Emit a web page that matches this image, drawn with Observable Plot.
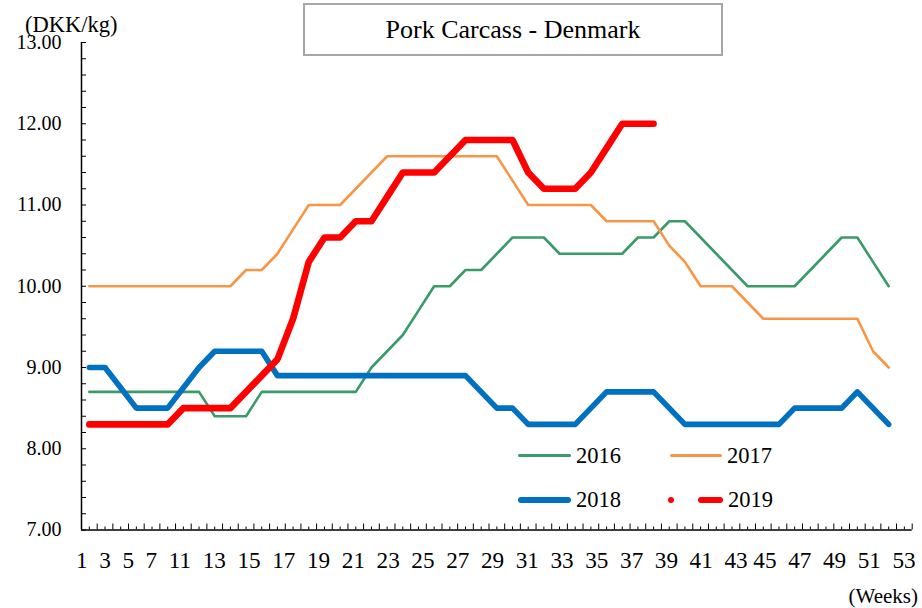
<!DOCTYPE html>
<html>
<head>
<meta charset="utf-8">
<script src="https://cdn.jsdelivr.net/npm/d3@7"></script>
<script src="https://cdn.jsdelivr.net/npm/@observablehq/plot@0.6"></script>
<style>
  html, body { margin: 0; padding: 0; background: #fff; }
  #wrap { position: relative; width: 922px; height: 608px; font-family: "Liberation Serif", "Times New Roman", serif; color: #000; }
  #wrap svg { position: absolute; left: 0; top: 0; }
  .abs { position: absolute; white-space: nowrap; }
  #title { left: 303px; top: 3px; width: 420px; height: 53px; box-sizing: border-box; border: 2px solid #a6a6a6; background: #fff;
           display: flex; align-items: center; justify-content: center; font-size: 26px; }
  .sw { position: absolute; border-radius: 4px; }
  .lg { position: absolute; font-size: 22.5px; line-height: 1; }
</style>
</head>
<body>
<div id="wrap"></div>
<script>
// ---- data ----
const title = "Pork Carcass - Denmark";
const yUnit = "(DKK/kg)";
const xUnit = "(Weeks)";
const years = ["2016", "2017", "2018", "2019"];
const colors = ["#3a9a68", "#f79646", "#0070c0", "#ff0000"];
const s2016 = [8.7,8.7,8.7,8.7,8.7,8.7,8.7,8.7,8.4,8.4,8.4,8.7,8.7,8.7,8.7,8.7,8.7,8.7,9.0,9.2,9.4,9.7,10.0,10.0,10.2,10.2,10.4,10.6,10.6,10.6,10.4,10.4,10.4,10.4,10.4,10.6,10.6,10.8,10.8,10.6,10.4,10.2,10.0,10.0,10.0,10.0,10.2,10.4,10.6,10.6,10.3,10.0];
const s2017 = [10.0,10.0,10.0,10.0,10.0,10.0,10.0,10.0,10.0,10.0,10.2,10.2,10.4,10.7,11.0,11.0,11.0,11.2,11.4,11.6,11.6,11.6,11.6,11.6,11.6,11.6,11.6,11.3,11.0,11.0,11.0,11.0,11.0,10.8,10.8,10.8,10.8,10.5,10.3,10.0,10.0,10.0,9.8,9.6,9.6,9.6,9.6,9.6,9.6,9.6,9.2,9.0];
const s2018 = [9.0,9.0,8.75,8.5,8.5,8.5,8.75,9.0,9.2,9.2,9.2,9.2,8.9,8.9,8.9,8.9,8.9,8.9,8.9,8.9,8.9,8.9,8.9,8.9,8.9,8.7,8.5,8.5,8.3,8.3,8.3,8.3,8.5,8.7,8.7,8.7,8.7,8.5,8.3,8.3,8.3,8.3,8.3,8.3,8.3,8.5,8.5,8.5,8.5,8.7,8.5,8.3];
const s2019 = [8.3,8.3,8.3,8.3,8.3,8.3,8.5,8.5,8.5,8.5,8.7,8.9,9.1,9.6,10.3,10.6,10.6,10.8,10.8,11.1,11.4,11.4,11.4,11.6,11.8,11.8,11.8,11.8,11.4,11.2,11.2,11.2,11.4,11.7,12.0,12.0,12.0];
const seriesValues = [s2016, s2017, s2018, s2019];
const xTickLabels = ["1","3","5","7","11","13","15","17","19","21","23","25","27","29","31","33","35","37","39","41","43","45","47","49","51","53"];
const yTickValues = [7, 8, 9, 10, 11, 12, 13];

// ---- styles ----
const widths = [2.6, 2.6, 5.6, 6.6];

const rows = years.map((yr, k) => seriesValues[k].map((v, i) => ({year: yr, week: i + 1, value: v})));

const nb = "\u00a0";
const xLabelString = xTickLabels.map((t, i) => i === 0 ? t : (t === "45" ? nb : nb + nb) + t).join("");

const minorY = d3.range(35, 66).map(i => i / 5);
const weekCenters = d3.range(1, 54);
const weekBounds = d3.range(1, 54).map(w => w + 0.5);

const plot = Plot.plot({
  width: 922,
  height: 608,
  marginLeft: 81,
  marginRight: 10.3,
  marginTop: 42,
  marginBottom: 78.5,
  style: {fontFamily: "Liberation Serif, Times New Roman, serif", fontSize: "20px", color: "#000", background: "transparent"},
  x: {domain: [0.5, 53.5]},
  y: {domain: [7, 13]},
  marks: [
    Plot.axisY(minorY, {label: null, tickSize: 5, dx: 5, tickPadding: 20, fontSize: 20,
      tickFormat: d => yTickValues.some(t => Math.abs(t - d) < 1e-6) ? d.toFixed(2) : ""}),
    Plot.axisX(weekCenters, {label: null, tickSize: 3, dy: -3, tickFormat: () => ""}),
    Plot.axisX(weekBounds, {label: null, tickSize: 6, dy: -6, tickFormat: () => ""}),
    Plot.ruleX([0.5], {y1: 7, y2: 13, stroke: "#000", strokeWidth: 1.5}),
    Plot.ruleY([7], {x1: 0.5, x2: 53.5, stroke: "#000", strokeWidth: 1.5}),
    ...rows.map((r, k) => Plot.line(r, {x: "week", y: "value", stroke: colors[k], strokeWidth: widths[k],
      strokeLinejoin: "round", strokeLinecap: "round"})),
    Plot.text([xLabelString], {frameAnchor: "bottom-left", textAnchor: "start", dx: -5.5, dy: 38.2, fontSize: 23.2, fill: "#000"})
  ]
});

const wrap = document.getElementById("wrap");
wrap.appendChild(plot);

function add(html) { wrap.insertAdjacentHTML("beforeend", html); }
add(`<div id="title" class="abs">${title}</div>`);
add(`<div class="abs" style="left:25px;top:14px;font-size:22.5px;line-height:1">${yUnit}</div>`);
add(`<div class="abs" style="right:4px;top:586px;font-size:21px;line-height:1">${xUnit}</div>`);

// legend
const lx = [518, 670, 518, 668];
const ly = [455.7, 455.7, 500, 500];
const lw = [53, 52, 53, 55];
const tx = [576, 727, 576, 728];
years.forEach((yr, k) => {
  const h = widths[k];
  if (k === 3) {
    add(`<div class="sw" style="left:${lx[k]}px;top:${ly[k]-h/2}px;width:6px;height:${h}px;background:${colors[k]}"></div>`);
    add(`<div class="sw" style="left:${lx[k]+30}px;top:${ly[k]-h/2}px;width:${lw[k]-30}px;height:${h}px;background:${colors[k]}"></div>`);
  } else {
    add(`<div class="sw" style="left:${lx[k]}px;top:${ly[k]-h/2}px;width:${lw[k]}px;height:${h}px;background:${colors[k]}"></div>`);
  }
  add(`<div class="lg" style="left:${tx[k]}px;top:${ly[k]-11}px">${yr}</div>`);
});
</script>
</body>
</html>
